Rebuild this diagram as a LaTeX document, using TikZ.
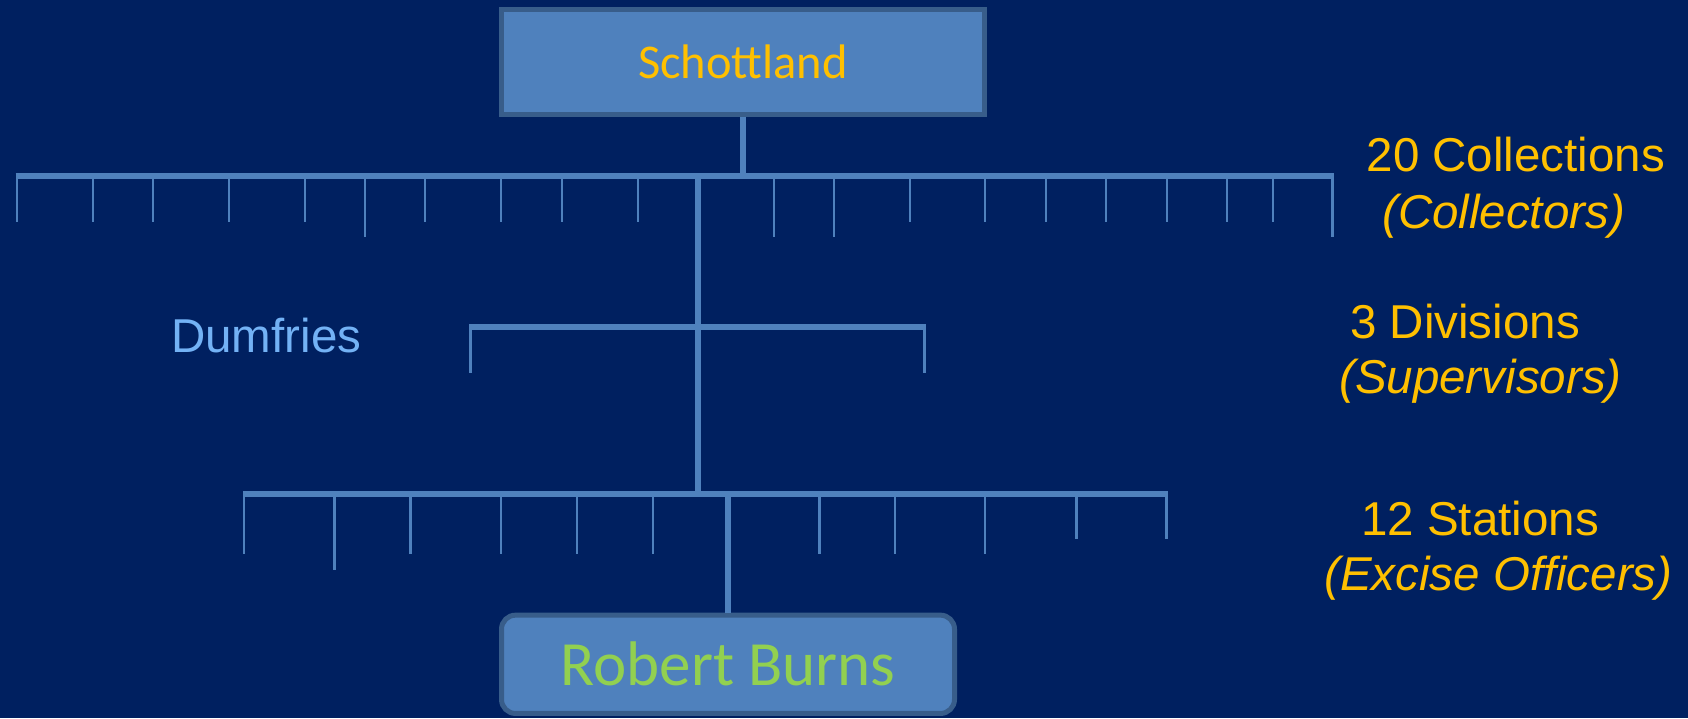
\documentclass[tikz,border=0pt]{standalone}
\usepackage{fontspec}
\setmainfont{Liberation Sans}
\newfontfamily\calibri{Carlito}
\definecolor{bg}{RGB}{0,32,96}
\definecolor{linec}{RGB}{79,129,189}
\definecolor{boxborder}{RGB}{56,93,138}
\definecolor{orangetxt}{RGB}{255,192,0}
\definecolor{greentxt}{RGB}{146,208,80}
\definecolor{dumfriesc}{RGB}{115,178,245}
\begin{document}
\begin{tikzpicture}[x=1pt,y=-1pt,
  bar/.style={linec, line width=6pt},
  trunk/.style={linec, line width=5.5pt},
  tick/.style={linec, line width=2.5pt},
  orgbox/.style={draw=boxborder, line width=5pt, fill=linec, inner sep=0pt},
  lbl/.style={orangetxt, font=\fontsize{47.5}{56}\selectfont, anchor=base west, inner sep=0pt},
]
\fill[bg] (0,0) rectangle (1688,718);
\useasboundingbox (0,0) rectangle (1688,718);

% boxes
\node[orgbox, minimum width=483pt, minimum height=105pt, text=orangetxt,
      font=\calibri\fontsize{48.5}{58}\selectfont] (scot) at (743,62.3) {Schottland};
\node[orgbox, rounded corners=14pt, minimum width=453pt, minimum height=98.3pt, text=greentxt,
      font=\calibri\fontsize{63}{76}\selectfont] (rb) at (728,664.3) {Robert Burns};

% bar coordinates
\coordinate (topL) at (15.5,176);
\coordinate (topR) at (1334,176);
\coordinate (divL) at (469.2,327);
\coordinate (divR) at (925.7,327);
\coordinate (botL) at (242.8,494);
\coordinate (botR) at (1168,494);
\coordinate (trunkTop) at (698,176);
\coordinate (trunkBot) at (698,494);
\coordinate (rbTop) at (728,494);

% connectors
\draw[trunk] (scot.south) -- (scot.south |- topL);
\draw[trunk] (trunkTop) -- (trunkBot);
\draw[trunk] (rbTop) -- (rb.north);
\draw[bar] (topL) -- (topR);
\draw[bar] (divL) -- (divR);
\draw[bar] (botL) -- (botR);

% collection ticks
\foreach \x in {17,93,153,229,305,425,501,562,638,910,985,1046,1106,1167,1227,1273}
  \draw[tick] (\x,176) -- (\x,221.7);
\foreach \x in {365,774,834,1332.6}
  \draw[tick] (\x,176) -- (\x,236.7);

% division ticks
\foreach \x in {470.4,924.5}
  \draw[tick] (\x,327) -- (\x,372.7);

% station ticks
\foreach \x in {244,410.4,501,576.8,652.9,819.3,895,985}
  \draw[tick] (\x,494) -- (\x,553.7);
\draw[tick] (334.6,494) -- (334.6,569.7);
\foreach \x in {1076.3,1166.7}
  \draw[tick] (\x,494) -- (\x,538.7);

% labels
\node[lbl, text=dumfriesc] (dum) at (171,352.7) {Dumfries};
\node[lbl] (col1) at (1366.5,171.7) {20 Collections};
\node[lbl, font=\fontsize{47.5}{56}\selectfont\itshape] (col2) at (1382,228.3) {(Collectors)};
\node[lbl] (div1) at (1350,338.3) {3 Divisions};
\node[lbl, font=\fontsize{47.5}{56}\selectfont\itshape] (div2) at (1339,393.3) {(Supervisors)};
\node[lbl] (sta1) at (1361,535) {12 Stations};
\node[lbl, font=\fontsize{47.5}{56}\selectfont\itshape] (sta2) at (1324,590) {(Excise Officers)};
\end{tikzpicture}
\end{document}
